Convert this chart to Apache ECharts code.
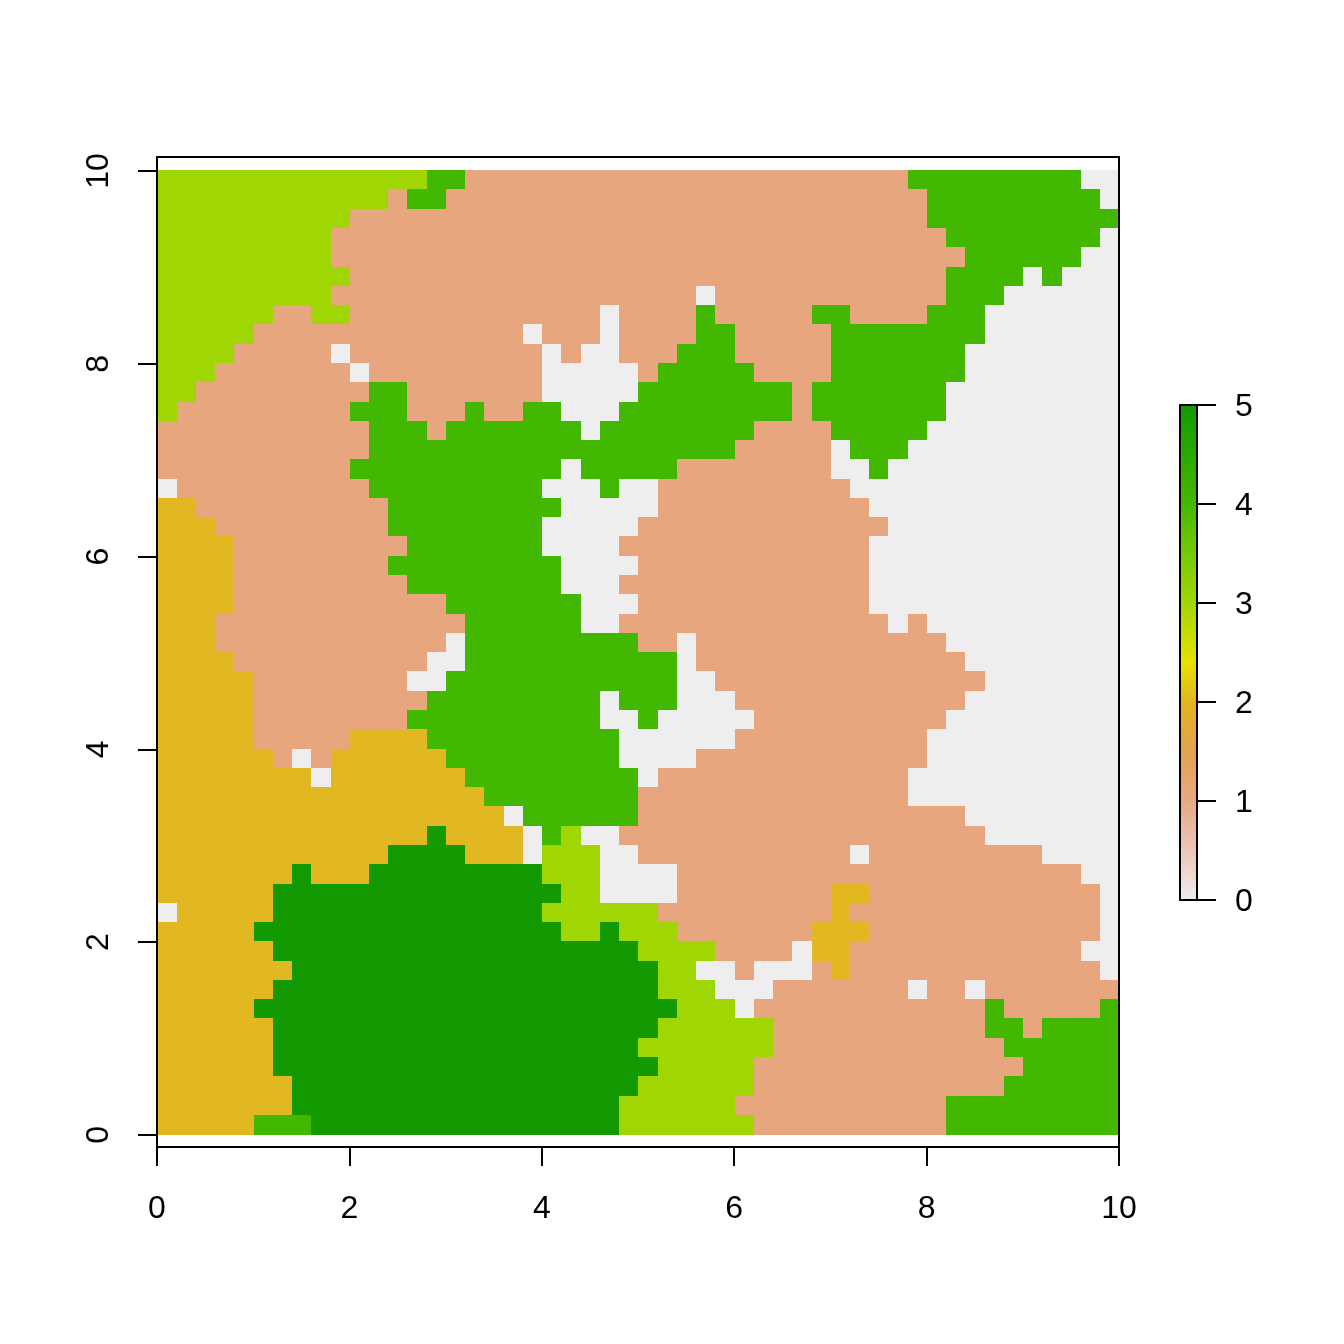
<!DOCTYPE html>
<html>
<head>
<meta charset="utf-8">
<style>html,body{margin:0;padding:0;background:#fff}#chart{width:1344px;height:1344px}</style>
<script src="https://cdn.jsdelivr.net/npm/echarts@6/dist/echarts.min.js"></script>
</head>
<body>
<div id="chart"></div>
<script>
// Raster class per row, top row first; each entry is "class:run length"
const rasterRows = [
"3:14 4:2 1:23 4:9 0:2",
"3:12 1:1 4:2 1:25 4:9 0:1",
"3:10 1:30 4:10",
"3:9 1:32 4:8 0:1",
"3:9 1:33 4:6 0:2",
"3:10 1:31 4:4 0:1 4:1 0:3",
"3:9 1:19 0:1 1:12 4:3 0:6",
"3:6 1:2 3:2 1:13 0:1 1:4 4:1 1:5 4:2 1:4 4:3 0:7",
"3:5 1:14 0:1 1:3 0:1 1:4 4:2 1:5 4:8 0:7",
"3:4 1:5 0:1 1:10 0:1 1:1 0:2 1:3 4:3 1:5 4:7 0:8",
"3:3 1:7 0:1 1:9 0:5 1:1 4:5 1:4 4:7 0:8",
"3:2 1:9 4:2 1:7 0:5 4:8 1:1 4:7 0:9",
"3:1 1:9 4:3 1:3 4:1 1:2 4:2 0:3 4:9 1:1 4:7 0:9",
"1:11 4:3 1:1 4:7 0:1 4:8 1:4 4:5 0:10",
"1:11 4:19 1:5 0:1 4:3 0:11",
"1:10 4:11 0:1 4:5 1:8 0:2 4:1 0:12",
"0:1 1:10 4:9 0:3 4:1 0:2 1:10 0:14",
"2:2 1:10 4:9 0:5 1:11 0:13",
"2:3 1:9 4:8 0:5 1:13 0:12",
"2:4 1:9 4:7 0:4 1:13 0:13",
"2:4 1:8 4:9 0:4 1:12 0:13",
"2:4 1:9 4:8 0:3 1:13 0:13",
"2:4 1:11 4:7 0:3 1:12 0:13",
"2:3 1:13 4:6 0:2 1:14 0:1 1:1 0:10",
"2:3 1:12 0:1 4:9 1:2 0:1 1:13 0:9",
"2:4 1:10 0:2 4:11 0:1 1:14 0:8",
"2:5 1:8 0:2 4:12 0:2 1:14 0:7",
"2:5 1:9 4:9 0:1 4:3 0:3 1:12 0:8",
"2:5 1:8 4:10 0:2 4:1 0:5 1:10 0:9",
"2:5 1:5 2:4 4:10 0:6 1:10 0:10",
"2:6 1:1 0:1 1:1 2:6 4:9 0:4 1:12 0:10",
"2:8 0:1 2:7 4:9 0:1 1:13 0:11",
"2:17 4:8 1:14 0:11",
"2:18 0:1 4:6 1:17 0:8",
"2:14 5:1 2:4 0:1 4:1 3:1 0:2 1:19 0:7",
"2:12 5:4 2:3 0:1 3:3 0:2 1:11 0:1 1:9 0:4",
"2:7 5:1 2:3 5:9 3:3 0:4 1:21 0:2",
"2:6 5:15 3:2 0:4 1:8 2:2 1:12 0:1",
"0:1 2:5 5:14 3:6 1:9 2:1 1:13 0:1",
"2:5 5:16 3:2 5:1 3:3 1:7 2:3 1:12 0:1",
"2:6 5:19 3:4 1:4 0:1 2:2 1:12 0:2",
"2:7 5:19 3:2 0:2 1:1 0:3 1:1 2:1 1:13 0:1",
"2:6 5:20 3:3 0:3 1:7 0:1 1:2 0:1 1:7",
"2:5 5:22 3:3 0:1 1:12 4:1 1:5 4:1",
"2:6 5:20 3:6 1:11 4:2 1:1 4:4",
"2:6 5:19 3:7 1:12 4:6",
"2:6 5:20 3:5 1:14 4:5",
"2:7 5:18 3:6 1:13 4:6",
"2:7 5:17 3:6 1:11 4:9",
"2:5 4:3 5:16 3:7 1:10 4:9"
];
const classColors = ["#EEEEEE","#E7A67D","#E1B822","#A1D605","#42B803","#139A02"];
const xTicks = [0,2,4,6,8,10];
const yTicks = [0,2,4,6,8,10];
const colorbarTicks = [0,1,2,3,4,5];
const colorbarStops = [
  [0.00,"#EEEEEE"],[0.10,"#EBC6B8"],[0.20,"#E8A882"],[0.30,"#E5A14F"],
  [0.40,"#E1B51F"],[0.48,"#E6E200"],[0.60,"#A1D605"],[0.72,"#6CC803"],[0.80,"#42B803"],[1.00,"#139A02"]
];
const cellSize = 0.2;
const extentMax = 10;

const cells = [];
rasterRows.forEach((row, r) => {
  let c = 0;
  row.split(" ").forEach(tok => {
    const [v, n] = tok.split(":").map(Number);
    for (let i = 0; i < n; i++, c++) cells.push([c * cellSize, extentMax - r * cellSize, v]);
  });
});

const font = {color:"#000", fontFamily:"'Liberation Sans', Arial, sans-serif", fontSize:32};
const line = {show:true, onZero:false, lineStyle:{color:"#000", width:2}};
const tick = vals => ({show:true, length:19, customValues:vals, lineStyle:{color:"#000", width:2}});
const noTick = {show:false}, noLabel = {show:false};
const bare = (extra) => Object.assign({type:"value", z:5, axisLine:line, axisTick:noTick, axisLabel:noLabel, splitLine:{show:false}}, extra);

// Snap raster edges to whole pixels the way the image raster does
const snapX = px => Math.ceil(px - 0.15);
const snapY = px => Math.floor(px - 0.3);

const chart = echarts.init(document.getElementById("chart"), null, {renderer:"canvas"});
chart.setOption({
  animation:false,
  backgroundColor:"#fff",
  grid:[
    {left:157, top:157, width:962, height:990},
    {left:1180, top:405, width:17, height:495},
    {left:1180, top:407, width:17, height:495}
  ],
  xAxis:[
    bare({gridIndex:0, position:"bottom", min:0, max:10,
      axisTick:tick(xTicks),
      axisLabel:Object.assign({show:true, margin:46, customValues:xTicks}, font)}),
    bare({gridIndex:0, position:"top", min:0, max:10}),
    bare({gridIndex:1, position:"bottom", min:0, max:1}),
    bare({gridIndex:1, position:"top", min:0, max:1}),
    {type:"value", gridIndex:2, min:0, max:1, show:false}
  ],
  yAxis:[
    bare({gridIndex:0, position:"left", min:-0.125, max:10.145,
      axisTick:tick(yTicks),
      axisLabel:Object.assign({show:true, margin:42, rotate:90, customValues:yTicks}, font)}),
    bare({gridIndex:0, position:"right", min:-0.125, max:10.145}),
    bare({gridIndex:1, position:"left", min:0, max:5}),
    bare({gridIndex:1, position:"right", min:0, max:5, axisTick:tick(colorbarTicks)}),
    bare({gridIndex:2, position:"right", min:0, max:5, axisLine:{show:false},
      axisLabel:Object.assign({show:true, margin:38, customValues:colorbarTicks}, font)})
  ],
  series:[
    {
      type:"custom", coordinateSystem:"cartesian2d", xAxisIndex:0, yAxisIndex:0, silent:true, clip:false,
      encode:{x:0, y:1},
      data:cells,
      renderItem:(params, api) => {
        const bottomValue = api.value(1) - cellSize;
        const a = api.coord([api.value(0), api.value(1)]);
        const b = api.coord([api.value(0) + cellSize, bottomValue]);
        const x = snapX(a[0]), y = snapY(a[1]);
        const yEnd = bottomValue < cellSize / 2 ? Math.round(b[1]) : snapY(b[1]);
        return {type:"rect",
          shape:{x, y, width:snapX(b[0]) - x, height:yEnd - y},
          style:{fill:classColors[api.value(2)]}};
      }
    },
    {
      type:"custom", coordinateSystem:"cartesian2d", xAxisIndex:2, yAxisIndex:2, silent:true,
      encode:{x:0, y:1},
      data:[[0,5,1,0]],
      renderItem:(params, api) => {
        const a = api.coord([api.value(0), api.value(1)]);
        const b = api.coord([api.value(2), api.value(3)]);
        return {type:"rect",
          shape:{x:a[0], y:a[1], width:b[0]-a[0], height:b[1]-a[1]},
          style:{fill:new echarts.graphic.LinearGradient(0,1,0,0,
            colorbarStops.map(s => ({offset:s[0], color:s[1]})))}};
      }
    }
  ]
});
</script>
</body>
</html>
